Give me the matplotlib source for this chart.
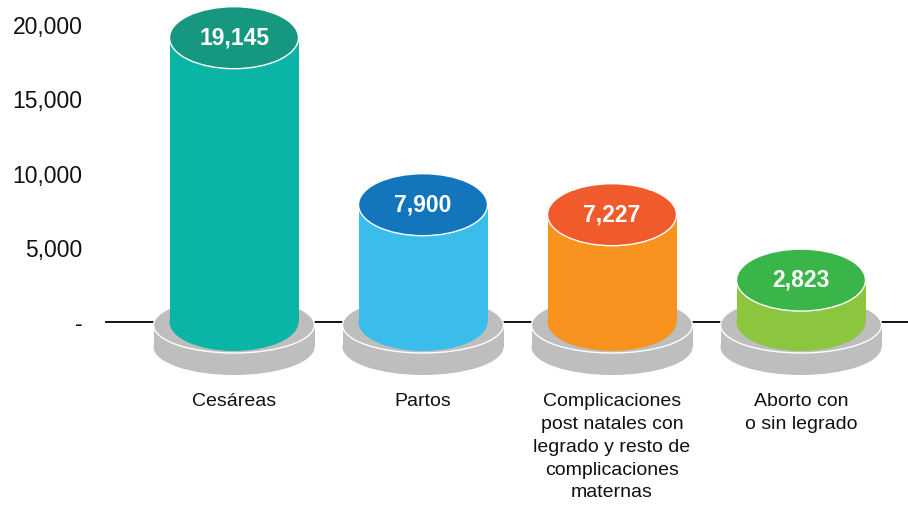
import matplotlib.pyplot as plt
from matplotlib.patches import Ellipse, Rectangle

plt.rcParams['font.family'] = ['Liberation Sans', 'DejaVu Sans']

categories = ['Cesáreas', 'Partos',
              'Complicaciones\npost natales con\nlegrado y resto de\ncomplicaciones\nmaternas',
              'Aborto con\no sin legrado']
values = [19145, 7900, 7227, 2823]
value_labels = ['19,145', '7,900', '7,227', '2,823']
yticks = [0, 5000, 10000, 15000, 20000]
ytick_labels = ['-', '5,000', '10,000', '15,000', '20,000']

side_colors = ['#0BB5A5', '#3BBDEC', '#F7931E', '#8CC63F']
top_colors = ['#16977F', '#1375BC', '#F15A2B', '#3AB54A']
grey = '#BDBEBD'

fig = plt.figure(figsize=(9.08, 5.08), dpi=100)
ax = fig.add_axes([0.1, 0, 0.9, 1])

# taille d'un pixel en unites de donnees
py = 20000 / 297
px = 1 / 189
left_px = 0.1 * 908
ax.set_ylim(-(508 - 322) * py, 20000 + 25 * py)
ax.set_xlim((left_px - 234) * px, (908 - 234) * px)

# ligne de base
ax.plot([(106 - 234) * px, (908 - 234) * px], [0, 0], color='black', lw=1.3, zorder=1)

for i, v in enumerate(values):
    # socle gris
    ax.add_patch(Ellipse((i, -25 * py), 161 * px, 56 * py, fc=grey, ec='none', zorder=2))
    ax.add_patch(Rectangle((i - 80.5 * px, -25 * py), 161 * px, 22 * py, fc=grey, ec='none', zorder=2))
    ax.add_patch(Ellipse((i, -3 * py), 161 * px, 56 * py, fc=grey, ec='white', lw=1, zorder=3))
    # cylindre
    ax.add_patch(Ellipse((i, 0), 129 * px, 58 * py, fc=side_colors[i], ec='none', zorder=4))
    ax.add_patch(Rectangle((i - 64.5 * px, 0), 129 * px, v, fc=side_colors[i], ec='none', zorder=4))
    ax.add_patch(Ellipse((i, v), 129 * px, 62 * py, fc=top_colors[i], ec='white', lw=1, zorder=5))
    ax.text(i, v, value_labels[i], color='white', fontsize=16.5, fontweight='bold',
            ha='center', va='center', zorder=6)
    ax.text(i, (322 - 393) * py, categories[i], fontsize=14, ha='center', va='top',
            linespacing=1.45, color='#111111')

ax.set_yticks(yticks)
ax.set_yticklabels(ytick_labels, fontsize=16.5, color='#111111')
ax.tick_params(axis='y', length=0, pad=6)
ax.set_xticks([])
for s in ax.spines.values():
    s.set_visible(False)

fig.savefig('out.png', dpi=100)
